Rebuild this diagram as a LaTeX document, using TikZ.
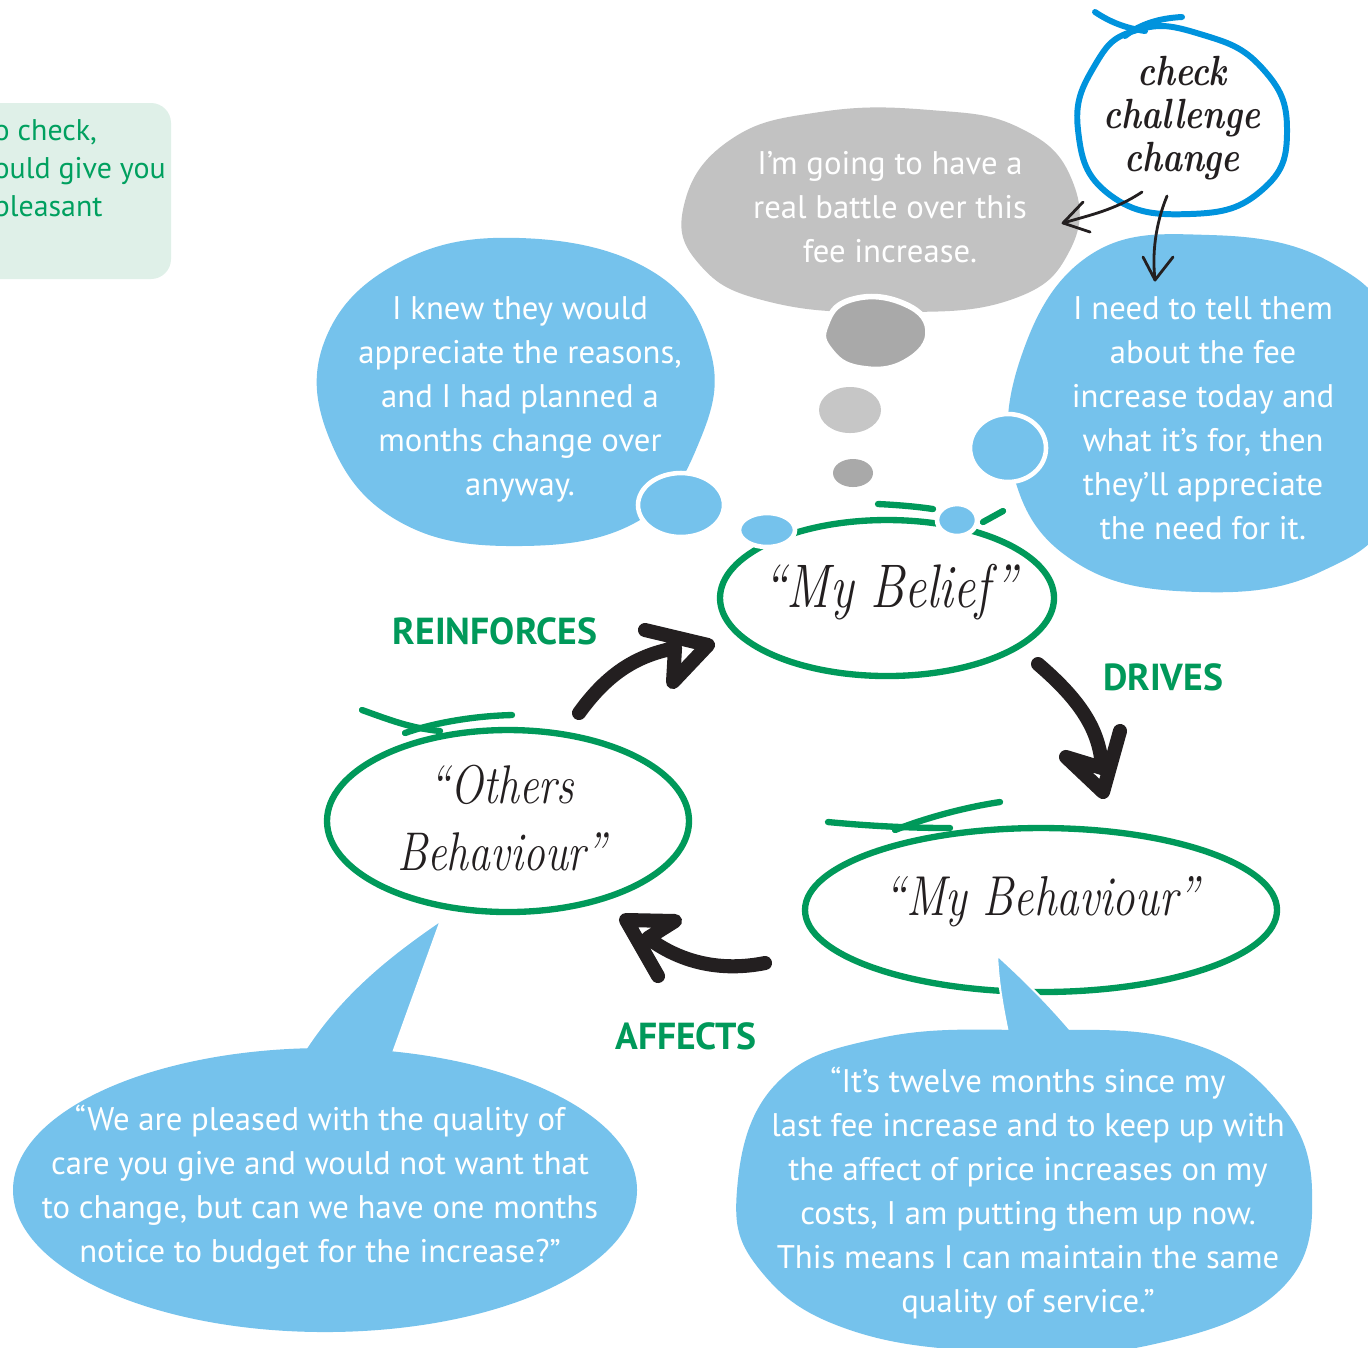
\documentclass[tikz,border=0pt]{standalone}
\usepackage{fontspec}
\setmainfont{PT Sans}
\newfontfamily\hand{Latin Modern Roman}[FakeStretch=0.8]
\usetikzlibrary{shapes.geometric}
\definecolor{bub}{RGB}{117,194,236}
\definecolor{grn}{RGB}{0,153,90}
\definecolor{boxbg}{RGB}{223,240,232}
\definecolor{boxtx}{RGB}{0,160,95}
\definecolor{gbub}{RGB}{194,194,194}
\definecolor{gdark}{RGB}{169,169,169}
\definecolor{glight}{RGB}{198,198,198}
\definecolor{cblue}{RGB}{0,147,221}
\definecolor{ink}{RGB}{35,31,32}
\tikzset{
  bubtext/.style={text=white,align=center,font=\fontsize{9.3}{12.5}\selectfont,inner sep=0pt},
  lbl/.style={text=grn,font=\fontsize{10.7}{12}\selectfont\bfseries,inner sep=0pt},
  handtext/.style={text=ink,align=center,inner sep=0pt},
  ring/.style={draw=grn,line width=1.8pt,line cap=round},
  bigarrow/.style={draw=ink,line width=4pt,line cap=round,line join=round},
  thinarrow/.style={draw=ink,line width=0.8pt,line cap=round,line join=round},
  puff/.style={draw=white,line width=1.3pt},
}
\begin{document}
\begin{tikzpicture}[x=0.01cm,y=-0.01cm]
\useasboundingbox (0,0) rectangle (1368,1347);
\clip (0,0) rectangle (1368,1347);
\fill[white] (0,0) rectangle (1368,1347);

% green box at top left
\fill[boxbg,rounded corners=0.2cm] (-40,103) rectangle (171,279);
\node[text=boxtx,anchor=west,align=left,font=\fontsize{8.5}{10.7}\selectfont,inner sep=0pt] (boxtext) at (-7,171) {o check,\\ould give you\\pleasant};

% grey thought bubble
\fill[gbub] plot[smooth cycle,tension=0.75] coordinates {(684,205) (730,140) (820,112) (930,110) (1020,128) (1072,180) (1070,250) (1010,300) (890,312) (770,302) (700,265)};
\node[bubtext] (thought) at (890,207) {I’m going to have a\\real battle over this\\fee increase.};
\filldraw[fill=gdark,draw=white,line width=1.6pt] plot[smooth cycle,tension=0.8] coordinates {(826,325) (850,300) (900,302) (928,330) (905,362) (860,368) (830,350)};
\fill[glight] (850,410) ellipse [x radius=31,y radius=23];
\fill[gdark] (853,473) ellipse [x radius=20,y radius=14];

% left blue bubble
\fill[bub] plot[smooth cycle,tension=0.7] coordinates {(520,238) (650,270) (710,350) (700,440) (640,520) (520,546) (400,522) (330,440) (325,340) (400,262)};
\node[bubtext] (knew) at (520,399) {I knew they would\\appreciate the reasons,\\and I had planned a\\months change over\\anyway.};

% right blue bubble
\fill[bub] plot[smooth cycle,tension=0.7] coordinates {(1090,255) (1210,235) (1330,262) (1395,340) (1395,500) (1320,572) (1200,592) (1080,565) (1015,480) (1020,360)};
\node[bubtext] (tell) at (1203,418) {I need to tell them\\about the fee\\increase today and\\what it’s for, then\\they’ll appreciate\\the need for it.};

% green rings
\draw[ring] (887,598) ellipse [x radius=167,y radius=78];
\draw[ring] (878,504) .. controls (900,505) and (920,507) .. (933,509);
\draw[ring] (983,522) -- (1003,511);
\draw[ring] (508,821) ellipse [x radius=181,y radius=91];
\draw[ring] (362,710) .. controls (390,720) and (410,728) .. (440,731);
\draw[ring] (512,715) .. controls (470,716) and (430,724) .. (405,733);
\draw[ring] (1041,910) ellipse [x radius=236,y radius=82];
\draw[ring] (828,822) .. controls (870,826) and (910,828) .. (950,828);
\draw[ring] (1000,802) .. controls (960,808) and (920,820) .. (895,830);

% small puffs
\filldraw[fill=bub,puff] (681,505) ellipse [x radius=43,y radius=32];
\filldraw[fill=bub,puff] (767,530) ellipse [x radius=28,y radius=17];
\filldraw[fill=bub,puff] (1008,448) ellipse [x radius=38,y radius=34];
\filldraw[fill=bub,puff] (957,520) ellipse [x radius=20,y radius=16];

% ring labels
\node[handtext,font=\hand\itshape\fontsize{17.5}{20}\selectfont] (belief) at (890,592) {“My Belief”};
\node[handtext,font=\hand\itshape\fontsize{15.5}{19}\selectfont] (others) at (502,818) {“Others\\Behaviour”};
\node[handtext,font=\hand\itshape\fontsize{16}{20}\selectfont] (mybeh) at (1042,902) {“My Behaviour”};

% check challenge change
\draw[cblue,line width=1.7pt,line cap=round] plot[smooth cycle,tension=0.8] coordinates {(1137,30) (1200,34) (1262,68) (1287,130) (1262,190) (1190,214) (1110,195) (1078,130) (1095,65)};
\draw[cblue,line width=1.7pt,line cap=round] (1095,12) .. controls (1110,22) and (1125,28) .. (1145,31);
\draw[cblue,line width=1.7pt,line cap=round] (1182,17) .. controls (1160,18) and (1140,24) .. (1125,36);
\node[handtext,font=\hand\bfseries\itshape\fontsize{12}{12.3}\selectfont] (ccc) at (1182,118) {check\\challenge\\change};

% thin arrows from the circle
\coordinate (t1a) at (1142,192);
\coordinate (t1b) at (1063,223);
\draw[thinarrow] (t1a) .. controls (1115,210) and (1090,215) .. (t1b);
\draw[thinarrow] (1083,202) -- (t1b) -- (1090,232);
\coordinate (t2a) at (1167,196);
\coordinate (t2b) at (1155,280);
\draw[thinarrow] (t2a) .. controls (1155,225) and (1152,255) .. (t2b);
\draw[thinarrow] (1143,257) -- (t2b) -- (1173,257);

% big arrows
\coordinate (ra) at (579,713);
\draw[bigarrow] (ra) .. controls (610,670) and (640,655) .. (675,648) -- (673,682) -- (708,645) -- (645,630);
\coordinate (da) at (1038,664);
\draw[bigarrow] (da) .. controls (1080,700) and (1100,730) .. (1102,768) -- (1066,757) -- (1103,792) -- (1120,731);
\coordinate (aa) at (765,963);
\draw[bigarrow] (aa) .. controls (720,972) and (680,962) .. (648,938) -- (675,921) -- (626,920) -- (658,976);

\node[lbl] (reinf) at (495,631) {REINFORCES};
\node[lbl] (drives) at (1163,677) {DRIVES};
\node[lbl] (affects) at (686,1036) {AFFECTS};

% bottom-left speech bubble
\filldraw[fill=bub,draw=white,line width=0.6pt] (290,1075) .. controls (330,1000) and (390,955) .. (441,920) -- (385,1075) -- cycle;
\fill[bub] (325,1190) ellipse [x radius=312,y radius=142];
\node[bubtext] (pleased) at (320,1187) {“We are pleased with the quality of\\care you give and would not want that\\to change, but can we have one months\\notice to budget for the increase?”};

% bottom-right speech bubble
\filldraw[fill=bub,draw=white,line width=0.6pt] (1014,1060) .. controls (1000,1000) and (998,975) .. (997,955) .. controls (1030,985) and (1060,1015) .. (1095,1060) -- cycle;
\fill[bub] plot[smooth cycle,tension=0.7] coordinates {(737,1190) (775,1085) (880,1038) (1030,1030) (1180,1040) (1275,1098) (1312,1190) (1280,1290) (1150,1345) (1000,1352) (850,1330) (760,1270)};
\node[bubtext] (twelve) at (1028,1193) {“It’s twelve months since my\\last fee increase and to keep up with\\the affect of price increases on my\\costs, I am putting them up now.\\This means I can maintain the same\\quality of service.”};
\end{tikzpicture}
\end{document}
